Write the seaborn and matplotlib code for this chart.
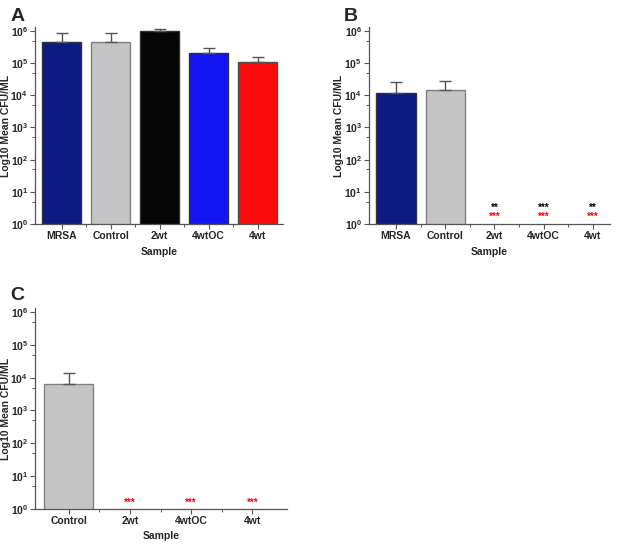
import numpy as np
import pandas as pd
import matplotlib
matplotlib.use("Agg")
import matplotlib.pyplot as plt
import matplotlib.ticker as mticker
import seaborn as sns

# ---- data ----
cats_ab = ["MRSA", "Control", "2wt", "4wtOC", "4wt"]
cats_c = ["Control", "2wt", "4wtOC", "4wt"]

mean_a = [4.4e5, 4.6e5, 1.0e6, 2.0e5, 1.07e5]
err_a = [4.0e5, 4.1e5, 1.2e5, 0.9e5, 0.45e5]

mean_b = [1.2e4, 1.45e4, np.nan, np.nan, np.nan]
err_b = [1.4e4, 1.35e4, np.nan, np.nan, np.nan]
stars_b_black = ["", "", "**", "***", "**"]
stars_b_red = ["", "", "***", "***", "***"]

mean_c = [6.2e3, np.nan, np.nan, np.nan]
err_c = [7.8e3, np.nan, np.nan, np.nan]
stars_c_red = ["", "***", "***", "***"]

colors_ab = ["#0d1a82", "#c4c4c4", "#050505", "#1414f0", "#fa0a0a"]
colors_c = ["#c4c4c4", "#c4c4c4", "#c4c4c4", "#c4c4c4"]
edges_ab = ["#303040", "#808080", "#303030", "#303040", "#505050"]

sns.set_style("white")
plt.rcParams["font.family"] = ["Liberation Sans", "DejaVu Sans"]
plt.rcParams["font.weight"] = "bold"
plt.rcParams["mathtext.fontset"] = "custom"
plt.rcParams["mathtext.bf"] = "Liberation Sans:bold"

fig = plt.figure(figsize=(6.2, 5.46), dpi=100)
axA = fig.add_axes([0.0565, 0.5897, 0.40, 0.3608])
axB = fig.add_axes([0.595, 0.5897, 0.389, 0.3608])
axC = fig.add_axes([0.0565, 0.0678, 0.406, 0.368])

fmt = mticker.FuncFormatter(lambda v, p: r"$\mathbf{10^{%d}}$" % int(round(np.log10(v))) if v >= 1 else "")


def panel(ax, cats, means, errs, colors, edges, xlim, ylab_x):
    df = pd.DataFrame({"Sample": cats, "val": means})
    sns.barplot(data=df, x="Sample", y="val", order=cats, hue="Sample",
                palette=dict(zip(cats, colors)), legend=False, width=0.8,
                saturation=1, errorbar=None, ax=ax, linewidth=1.0)
    for patch, e in zip(ax.patches, edges):
        patch.set_edgecolor(e)
    ax.set_yscale("log")
    xs = np.arange(len(cats))
    m = np.array(means, dtype=float)
    er = np.array(errs, dtype=float)
    ok = ~np.isnan(m)
    ax.errorbar(xs[ok], m[ok], yerr=[np.zeros(ok.sum()), er[ok]], fmt="none",
                ecolor="#555555", elinewidth=1.0, capsize=4, capthick=1.0)
    ax.set_ylim(1, 10 ** 6.12)
    ax.set_xlim(*xlim)
    ax.yaxis.set_major_locator(mticker.FixedLocator([1e0, 1e1, 1e2, 1e3, 1e4, 1e5, 1e6]))
    ax.yaxis.set_minor_locator(mticker.FixedLocator([5e0, 5e1, 5e2, 5e3, 5e4, 5e5]))
    ax.yaxis.set_major_formatter(fmt)
    ax.yaxis.set_minor_formatter(mticker.NullFormatter())
    ax.xaxis.set_minor_locator(mticker.FixedLocator(xs[:-1] + 0.5))
    ax.tick_params(axis="both", which="major", direction="out", length=3.5, width=0.8,
                   color="#555555", labelsize=7.5, pad=1.5, left=True, bottom=True)
    ax.tick_params(axis="both", which="minor", direction="out", length=2, width=0.7,
                   color="#555555", left=True, bottom=True)
    for lab in ax.get_xticklabels():
        lab.set_fontweight("bold")
    for s in ["top", "right"]:
        ax.spines[s].set_visible(False)
    for s in ["left", "bottom"]:
        ax.spines[s].set_color("#555555")
        ax.spines[s].set_linewidth(0.9)
    ax.set_xlabel("Sample", fontsize=7.5, fontweight="bold", labelpad=4)
    ax.set_ylabel("Log10 Mean CFU/ML", fontsize=7.5, fontweight="bold")
    ax.yaxis.set_label_coords(ylab_x, 0.5)


panel(axA, cats_ab, mean_a, err_a, colors_ab, edges_ab, (-0.55, 4.52), -0.097)
panel(axB, cats_ab, mean_b, err_b, colors_ab, edges_ab, (-0.55, 4.35), -0.104)
panel(axC, cats_c, mean_c, err_c, colors_c, ["#808080"] * 4, (-0.55, 3.56), -0.095)

for i, (sb, sr) in enumerate(zip(stars_b_black, stars_b_red)):
    if sb:
        axB.text(i, 10 ** 0.50, sb, color="black", ha="center", va="center",
                 fontsize=7, fontweight="bold")
    if sr:
        axB.text(i, 10 ** 0.22, sr, color="red", ha="center", va="center",
                 fontsize=7, fontweight="bold")
for i, sr in enumerate(stars_c_red):
    if sr:
        axC.text(i, 10 ** 0.2, sr, color="red", ha="center", va="center",
                 fontsize=7, fontweight="bold")

fig.text(0.017, 0.985, "A", fontsize=14, fontweight="bold", va="top", ha="left")
fig.text(0.555, 0.985, "B", fontsize=14, fontweight="bold", va="top", ha="left")
fig.text(0.017, 0.475, "C", fontsize=14, fontweight="bold", va="top", ha="left")

fig.savefig("out.png", dpi=100, facecolor="white")
